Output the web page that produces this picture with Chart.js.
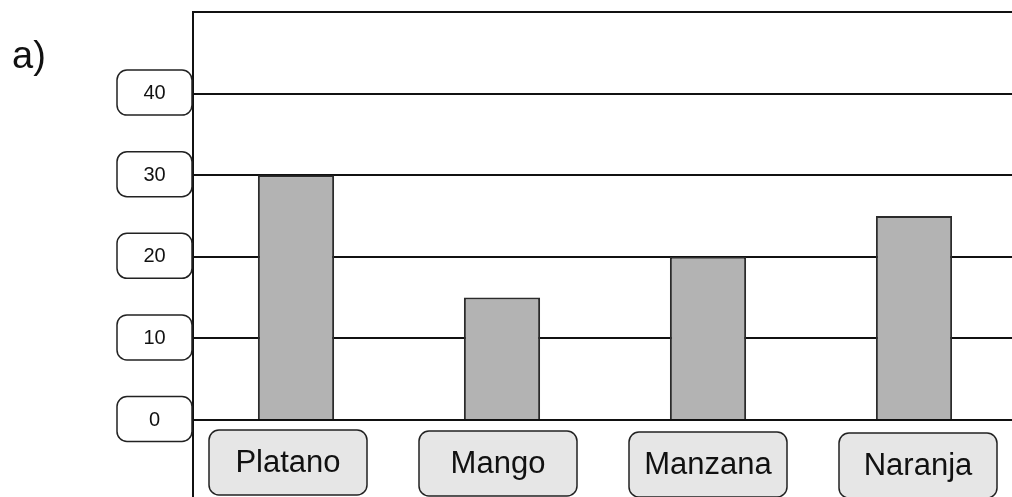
<!DOCTYPE html>
<html>
<head>
<meta charset="utf-8">
<script src="https://cdn.jsdelivr.net/npm/chart.js@4/dist/chart.umd.min.js"></script>
<style>
    html, body { margin: 0; padding: 0; background: #fff; overflow: hidden; }
    #wrap { position: relative; width: 1012px; height: 497px; overflow: hidden; }
    canvas { position: absolute; left: 0; top: 0; }
</style>
</head>
<body>
<div id="wrap">
    <canvas id="fruitChart" width="1030" height="497"></canvas>
</div>
<script>
// Chart data
const categories = ['Platano', 'Mango', 'Manzana', 'Naranja'];
const values = [30, 15, 20, 25];
const yTickValues = [0, 10, 20, 30, 40];
const yTickLabels = ['0', '10', '20', '30', '40'];
const partLabel = 'a)';

const FONT = "'Liberation Sans', Arial, sans-serif";

// Draws the boxed tick labels, the long left axis and the "a)" label
const boxLabels = {
    id: 'boxLabels',
    afterDraw(chart) {
        const ctx = chart.ctx;
        const area = chart.chartArea;
        const xScale = chart.scales.x;
        const yScale = chart.scales.y;

        ctx.save();

        // left axis line running down past the plot
        ctx.strokeStyle = '#111';
        ctx.lineWidth = 2;
        ctx.beginPath();
        ctx.moveTo(area.left, area.top - 1);
        ctx.lineTo(area.left, chart.height);
        ctx.stroke();

        // y tick boxes
        ctx.font = '20px ' + FONT;
        ctx.textAlign = 'center';
        ctx.textBaseline = 'middle';
        yTickValues.forEach((v, i) => {
            const y = yScale.getPixelForValue(v);
            const w = 75, h = 45;
            const x0 = area.left - 76;
            ctx.beginPath();
            ctx.roundRect(x0, y - h / 2 - 1, w, h, 10);
            ctx.fillStyle = '#fff';
            ctx.fill();
            ctx.strokeStyle = '#222';
            ctx.lineWidth = 1.5;
            ctx.stroke();
            ctx.fillStyle = '#111';
            ctx.fillText(yTickLabels[i], x0 + w / 2, y);
        });

        // category boxes (hand-placed look: slightly staggered)
        ctx.font = '31px ' + FONT;
        categories.forEach((name, i) => {
            const cx = xScale.getPixelForValue(i) + (i - 2) * 4;
            const w = 158, h = 65;
            const top = area.bottom + 10 + i;
            ctx.beginPath();
            ctx.roundRect(cx - w / 2, top, w, h, 10);
            ctx.fillStyle = '#e6e6e6';
            ctx.fill();
            ctx.strokeStyle = '#222';
            ctx.lineWidth = 1.5;
            ctx.stroke();
            ctx.fillStyle = '#111';
            ctx.fillText(name, cx, top + h / 2 + 1);
        });

        // part label
        ctx.font = '38px ' + FONT;
        ctx.textAlign = 'left';
        ctx.textBaseline = 'alphabetic';
        ctx.fillStyle = '#111';
        ctx.fillText(partLabel, 12, 68);

        ctx.restore();
    }
};

const ctx = document.getElementById('fruitChart').getContext('2d');
new Chart(ctx, {
    type: 'bar',
    data: {
        labels: categories,
        datasets: [{
            data: values,
            backgroundColor: '#b3b3b3',
            borderColor: '#2b2b2b',
            borderWidth: 2,
            categoryPercentage: 1,
            barPercentage: 0.37
        }]
    },
    options: {
        responsive: false,
        animation: false,
        layout: {
            padding: { left: 193, top: 12, right: 13, bottom: 77 }
        },
        plugins: {
            legend: { display: false },
            tooltip: { enabled: false }
        },
        scales: {
            x: {
                grid: { display: false },
                border: { display: false },
                ticks: { display: false },
                afterFit: (scale) => { scale.height = 0; }
            },
            y: {
                min: 0,
                max: 50,
                ticks: { display: false, stepSize: 10 },
                grid: { color: '#111', lineWidth: 2, drawTicks: false },
                border: { display: false },
                afterFit: (scale) => { scale.width = 0; }
            }
        }
    },
    plugins: [boxLabels]
});
</script>
</body>
</html>
